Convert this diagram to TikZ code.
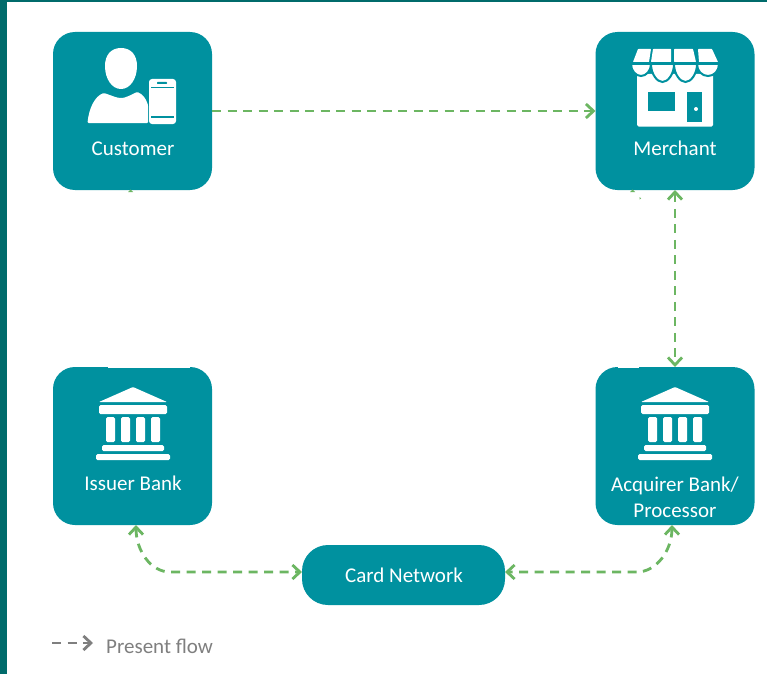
\documentclass[tikz,border=0pt]{standalone}
\usepackage{fontspec}
\setmainfont{Carlito}
\usetikzlibrary{arrows.meta}
\definecolor{tealbox}{HTML}{00919F}
\definecolor{tealbar}{HTML}{006B6B}
\definecolor{flow}{HTML}{6CB662}
\definecolor{legendgray}{HTML}{7F7F7F}
\tikzset{
  x=1pt,y=-1pt,
  barb/.tip={Straight Barb[length=7.5pt,width=14pt,line width=2.8pt]},
  card/.style={draw=none,fill=tealbox,rounded corners=22pt,minimum width=159pt,minimum height=158pt,inner sep=0pt,outer sep=0pt},
  pill/.style={draw=none,fill=tealbox,rounded corners=26pt,minimum width=203pt,minimum height=60pt,inner sep=0pt,outer sep=0pt},
  lab/.style={text=white,font=\fontsize{21}{24}\selectfont,inner sep=0pt,anchor=base},
  flowline/.style={draw=flow,line width=2.8pt,dash pattern=on 9pt off 6.5pt},
  scallop/.style={fill=white,draw=tealbox,line width=2pt},
  bankicon/.pic={
    \fill[white,rounded corners=0.8pt] (0,-46) -- (34,-31) -- (-34,-31) -- cycle;
    \fill[white,rounded corners=1.5pt] (-34,-28) rectangle (34,-19);
    \foreach \cx in {-22.5,-7.5,7.5,22.5}
      \fill[white,rounded corners=1.5pt] (\cx-4.5,-16) rectangle (\cx+4.5,9);
    \fill[white,rounded corners=1.5pt] (-31,12) rectangle (31,18);
    \fill[white,rounded corners=1.5pt] (-37,21) rectangle (37,27);
  }
}
\begin{document}
\begin{tikzpicture}
\useasboundingbox (0,0) rectangle (767,674);
\fill[white] (0,0) rectangle (767,674);
\fill[tealbar] (0,0) rectangle (7,674);
\fill[tealbar] (0,0) rectangle (767,2);

\node[card] (cust) at (132.5,111) {};
\node[card] (merch) at (675,111) {};
\node[card] (iss) at (132.5,446) {};
\node[card] (acq) at (675,446) {};
\node[pill] (net) at (403.5,575) {};
% slight steps in the top edges of the lower boxes
\fill[white] (108,366.5) rectangle (190,368);
\fill[white] (618,366.5) rectangle (639,368);

% customer icon
\fill[white] (121,48) .. controls (111,48) and (105,55) .. (105,66)
  .. controls (105,79) and (112,89) .. (121,89)
  .. controls (130,89) and (137,79) .. (137,66)
  .. controls (137,55) and (131,48) .. (121,48) -- cycle;
\fill[white,rounded corners=1pt] (87.5,123) .. controls (89,108) and (95,96) .. (104,93)
  .. controls (110,95) and (117,98) .. (121,98)
  .. controls (125,98) and (131,95) .. (137,92)
  .. controls (143,94) and (146,99) .. (148,105) -- (148,123) -- cycle;
\fill[white,rounded corners=3pt] (149,79) rectangle (176,124);
\fill[tealbox] (151,86.7) rectangle (174,87.4);
\fill[tealbox] (151,115.5) rectangle (174,118);
\fill[tealbox,rounded corners=0.6pt] (157,82) rectangle (167,84);

% merchant icon
\fill[white,rounded corners=0.5pt] (638,49) -- (651,49) -- (649,62) -- (633,62) -- cycle;
\fill[white,rounded corners=0.5pt] (653,49) -- (671,49) -- (671,62) -- (651,62) -- cycle;
\fill[white,rounded corners=0.5pt] (674,49) -- (693,49) -- (696,62) -- (674,62) -- cycle;
\fill[white,rounded corners=0.5pt] (698,49) -- (712,49) -- (718,62) -- (699,62) -- cycle;
\fill[white,rounded corners=1.5pt] (637,74) rectangle (713,126.5);
\path[scallop] (631,64) -- (651,64) .. controls (651,71) and (646,76) .. (641,76) .. controls (636,76) and (631,71) .. (631,64) -- cycle;
\path[scallop] (651,64) -- (674,64) .. controls (674,74) and (668,82) .. (662.5,82) .. controls (657,82) and (651,74) .. (651,64) -- cycle;
\path[scallop] (674,64) -- (697,64) .. controls (697,74) and (691,82) .. (685.5,82) .. controls (680,82) and (674,74) .. (674,64) -- cycle;
\path[scallop] (697,64) -- (719,64) .. controls (719,71) and (714,76) .. (708,76) .. controls (702,76) and (697,71) .. (697,64) -- cycle;
\fill[tealbox] (648,92) rectangle (675,111);
\fill[tealbox] (687,92) rectangle (702,122);
\fill[white] (696,109) circle[radius=2];

% banks
\pic at (133,433) {bankicon};
\pic at (675,433) {bankicon};

% labels
\node[lab] (custl) at (133,155.5) {Customer};
\node[lab] (merchl) at (675,155.5) {Merchant};
\node[lab] (issl) at (133,490.5) {Issuer Bank};
\node[lab] (acql) at (675,491) {Acquirer Bank/};
\node[lab] (procl) at (675,517) {Processor};
\node[lab] (netl) at (404,582.5) {Card Network};

% connectors
\draw[flowline,-{barb}] (cust.east) -- (merch.west);
\draw[flowline,{barb}-{barb}] (merch.south) -- (acq.north);
\draw[flowline,{barb}-{barb}] ([xshift=3.5pt]iss.south) .. controls +(0,26) and +(-19,0) .. +(34,47) -- ([yshift=3pt]net.west);
\draw[flowline,{barb}-{barb}] ([xshift=-3pt]acq.south) .. controls +(0,26) and +(19,0) .. +(-35,47) -- ([yshift=3pt]net.east);
% small stray marks under the top boxes
\fill[flow] (128,192) -- (130.5,189.5) -- (133,192) -- cycle;
\fill[flow] (630,192) -- (632.5,189.5) -- (635,192) -- cycle;
\fill[flow] (639.5,197) -- (641,198.5) -- (639.5,199.5) -- cycle;

\coordinate (legs) at (52,643);
\coordinate (lege) at (93,643);
\draw[legendgray,line width=2.8pt,dash pattern=on 9pt off 6.5pt,-{barb}] (legs) -- (lege);
\node[anchor=base west,inner sep=0pt,text=legendgray,font=\fontsize{21}{24}\selectfont] (legl) at (106,653) {Present flow};
\end{tikzpicture}
\end{document}
